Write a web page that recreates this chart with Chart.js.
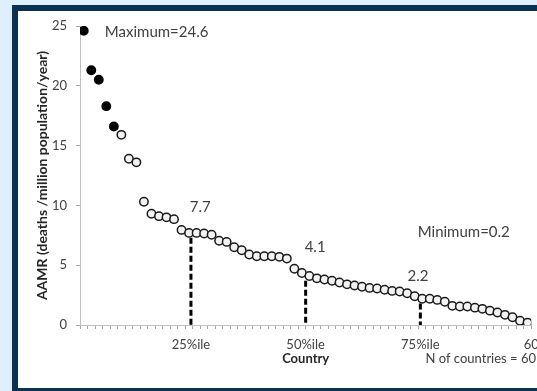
<!DOCTYPE html>
<html>
<head>
<meta charset="utf-8">
<script src="https://cdn.jsdelivr.net/npm/chart.js@4.4.0/dist/chart.umd.min.js"></script>
<style>
  html, body { margin: 0; padding: 0; background: #dff0fc; overflow: hidden; }
  #frame { position: absolute; left: 12px; top: 5px; width: 519px; height: 377px;
           border-left: 6px solid #0a3150; border-top: 6px solid #0a3150; border-bottom: 3px solid #0a3150; background: #fff; }
  #wrap { position: absolute; left: 0; top: 0; width: 537px; height: 391px; }
</style>
</head>
<body>
<div id="frame"></div>
<div id="wrap"><canvas id="chart"></canvas></div>
<script>
// AAMR per country, ranked high to low (60 countries)
const aamr = [
  24.6, 21.3, 20.5, 18.3, 16.6, 15.9, 13.9, 13.6, 10.3, 9.3,
  9.1, 9.0, 8.85, 7.95, 7.7, 7.7, 7.65, 7.55, 7.05, 6.95,
  6.5, 6.25, 5.9, 5.75, 5.75, 5.75, 5.7, 5.55, 4.7, 4.35,
  4.1, 3.9, 3.8, 3.7, 3.55, 3.4, 3.3, 3.2, 3.1, 3.05,
  2.95, 2.85, 2.8, 2.65, 2.4, 2.2, 2.2, 2.1, 1.95, 1.6,
  1.55, 1.55, 1.45, 1.35, 1.2, 1.05, 0.85, 0.65, 0.35, 0.2
];
const nFilled = 5;
const pctLabels = ['25%ile', '50%ile', '75%ile'];
const pctRank = [15.25, 30.5, 45.75];
const pctValue = [7.7, 4.1, 2.2];
const nCountries = aamr.length;

const filledPts = aamr.slice(0, nFilled).map((v, i) => ({x: i + 1, y: v}));
const openPts = aamr.slice(nFilled).map((v, i) => ({x: i + 1 + nFilled, y: v}));

const dashSets = pctRank.map((r, i) => ({
  type: 'line',
  data: [{x: r, y: pctValue[i] - 0.4}, {x: r, y: 0}],
  borderColor: '#000',
  borderWidth: 3,
  borderDash: [6, 3],
  pointRadius: 0,
  order: 2
}));

const txtColor = '#404040';
const font = 'Lato';

// text notes anchored in data units
const notes = [
  {text: 'Maximum=' + Math.max(...aamr), x: 3.8, y: 24.5},
  {text: 'Minimum=' + Math.min(...aamr), x: 45.4, y: 7.8},
  {text: String(pctValue[0]), x: 15.1, y: 9.85},
  {text: String(pctValue[1]), x: 30.37, y: 6.52},
  {text: String(pctValue[2]), x: 44.04, y: 4.08}
];

const notesPlugin = {
  id: 'notes',
  afterDraw(chart) {
    const {ctx, scales: {x, y}} = chart;
    ctx.save();
    ctx.fillStyle = txtColor;
    ctx.font = '15px ' + font;
    ctx.textAlign = 'left';
    ctx.textBaseline = 'middle';
    notes.forEach(n => ctx.fillText(n.text, x.getPixelForValue(n.x), y.getPixelForValue(n.y)));
    ctx.font = '13px ' + font;
    ctx.textAlign = 'right';
    ctx.fillText('N of countries = ' + nCountries, chart.width - 1, 359);
    ctx.restore();
  }
};

new Chart(document.getElementById('chart'), {
  type: 'scatter',
  data: {
    datasets: [
      {data: filledPts, backgroundColor: '#000', borderColor: '#000', borderWidth: 1.5, pointRadius: 4.2, order: 1},
      {data: openPts, backgroundColor: '#f2f2f2', borderColor: '#1a1a1a', borderWidth: 1.5, pointRadius: 4.2, order: 1},
      ...dashSets
    ]
  },
  options: {
    responsive: true,
    maintainAspectRatio: false,
    animation: false,
    layout: {padding: {left: 31, top: 26, right: 5, bottom: 20}},
    plugins: {legend: {display: false}, tooltip: {enabled: false}},
    scales: {
      x: {
        type: 'linear', min: 0.5, max: nCountries + 0.5,
        afterBuildTicks(s) {
          const t = [];
          for (let k = 0; k <= nCountries; k++) t.push(k + 0.5);
          pctRank.forEach(r => { if (!t.includes(r)) t.push(r); });
          t.sort((a, b) => a - b);
          s.ticks = t.map(v => ({value: v}));
        },
        afterFit(s) { s.height = 46; s.paddingLeft = 0; s.paddingRight = 0; },
        ticks: {
          autoSkip: false, maxRotation: 0, padding: 8,
          color: txtColor, font: {family: font, size: 13},
          callback(v) {
            const i = pctRank.indexOf(v);
            if (i >= 0) return pctLabels[i];
            if (v === nCountries + 0.5) return String(nCountries);
            return '';
          }
        },
        grid: {
          drawOnChartArea: false, tickLength: 4,
          tickColor(c) { return (c.tick && pctRank.includes(c.tick.value) && c.tick.value % 1 !== 0.5) ? 'rgba(0,0,0,0)' : '#a6a6a6'; }
        },
        border: {color: '#bfbfbf'},
        title: {display: true, text: 'Country', color: '#262626', font: {family: font, size: 13, weight: 'bold'}, padding: {top: 4, bottom: 4}}
      },
      y: {
        min: 0, max: 25,
        afterFit(s) { s.width = 49; s.paddingTop = 0; s.paddingBottom = 0; },
        ticks: {stepSize: 5, padding: 9, color: txtColor, font: {family: font, size: 13}},
        grid: {drawOnChartArea: false, tickLength: 4, tickColor: '#a6a6a6'},
        border: {color: '#bfbfbf'},
        title: {display: true, text: 'AAMR (deaths /million population/year)', color: '#262626',
                font: {family: font, size: 14, weight: 'bold'}, padding: {top: 3, bottom: 3}}
      }
    }
  },
  plugins: [notesPlugin]
});
</script>
</body>
</html>
